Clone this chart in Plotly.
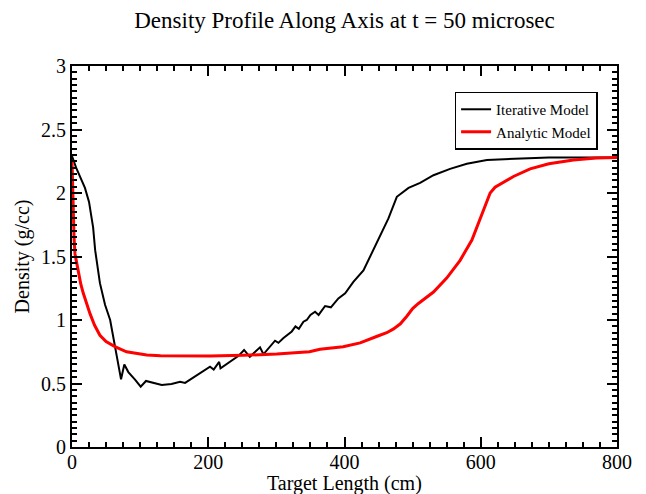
import plotly.graph_objects as go

# Iterative model (black)
iter_x = [0, 6, 19, 25, 31, 34, 41, 48.5, 56, 60.7, 65.6, 72, 76.8, 82.7, 92.5, 100.8, 108.6,
          119.4, 131.7, 146, 158.6, 166, 175.7, 188, 202.6, 208, 216, 218, 232, 244, 252.6,
          261, 276, 281, 298, 303, 310, 322.6, 328, 333, 339.7, 344.6, 350, 356.8, 362, 371.5,
          380, 391, 401, 413, 427.8, 440, 452, 464.5, 476.8, 494, 511, 530.6, 555, 579.6,
          609, 653, 700, 750, 800]
iter_y = [2.29, 2.20, 2.04, 1.93, 1.73, 1.55, 1.29, 1.12, 1.0, 0.87, 0.71, 0.533, 0.65, 0.59,
          0.53, 0.475, 0.52, 0.506, 0.488, 0.496, 0.514, 0.505, 0.54, 0.58, 0.632, 0.61, 0.67,
          0.62, 0.67, 0.716, 0.764, 0.71, 0.785, 0.73, 0.837, 0.82, 0.856, 0.91, 0.95, 0.93,
          0.987, 1.0, 1.04, 1.065, 1.04, 1.11, 1.10, 1.17, 1.21, 1.30, 1.39, 1.525, 1.67, 1.80,
          1.97, 2.04, 2.08, 2.14, 2.19, 2.23, 2.26, 2.27, 2.28, 2.28, 2.28]

# Analytic model (red)
anal_x = [0, 1, 2, 3, 4.4, 6.9, 9.3, 13, 16.6, 21, 26.4, 33, 41, 50, 63, 80, 95, 109.7, 130,
          153.7, 202.6, 251.5, 300.6, 348.5, 364, 398, 423, 447, 462, 472, 482, 491.5, 500,
          508.5, 530.6, 550, 569.7, 587, 601.6, 613.8, 621, 648, 672.5, 700, 736, 770, 800]
anal_y = [2.26, 2.0, 1.8, 1.65, 1.52, 1.44, 1.37, 1.28, 1.21, 1.13, 1.05, 0.96, 0.88, 0.83,
          0.79, 0.75, 0.735, 0.724, 0.718, 0.716, 0.716, 0.722, 0.732, 0.75, 0.77, 0.79, 0.82,
          0.87, 0.90, 0.93, 0.97, 1.03, 1.09, 1.13, 1.22, 1.33, 1.47, 1.63, 1.84, 2.0, 2.045,
          2.13, 2.19, 2.23, 2.26, 2.275, 2.28]

FONT = "Liberation Serif"

fig = go.Figure()
fig.add_trace(go.Scatter(x=iter_x, y=iter_y, mode="lines", name="Iterative Model",
                         line=dict(color="black", width=2)))
fig.add_trace(go.Scatter(x=anal_x, y=anal_y, mode="lines", name="Analytic Model",
                         line=dict(color="red", width=3)))

axis_common = dict(
    showgrid=False, zeroline=False, showline=True, linecolor="black", linewidth=2,
    mirror="allticks", ticks="inside", ticklen=10, tickwidth=2, tickcolor="black",
    tickfont=dict(family=FONT, size=20, color="black"), automargin=False,
)

fig.update_xaxes(range=[0, 800], dtick=200, tick0=0, ticklabelstandoff=-4,
                 minor=dict(dtick=25, ticks="inside", ticklen=5, tickwidth=1.5, tickcolor="black"),
                 **axis_common)
fig.update_yaxes(range=[0, 3], dtick=0.5, tick0=0,
                 title=dict(text="Density (g/cc)", font=dict(family=FONT, size=20), standoff=6),
                 minor=dict(dtick=0.05, ticks="inside", ticklen=5, tickwidth=1.5, tickcolor="black"),
                 **axis_common)

# x axis title as an annotation so it sits just under the tick labels
fig.add_annotation(text="Target Length (cm)", xref="paper", yref="paper",
                   x=0.5, y=-0.096, xanchor="center", yanchor="middle", showarrow=False,
                   font=dict(family=FONT, size=20, color="black"))

# page body adds an 8px offset, so the figure is 8px smaller
fig.update_layout(
    width=638, height=486,
    margin=dict(l=64, r=29, t=58, b=47),
    plot_bgcolor="white", paper_bgcolor="white",
    font=dict(family=FONT, color="black"),
    title=dict(text="Density Profile Along Axis at t = 50 microsec",
               font=dict(family=FONT, size=23, color="black"),
               x=0.5, xref="paper", xanchor="center",
               y=0.975, yref="container", yanchor="middle"),
    legend=dict(x=0.702, y=0.933, xanchor="left", yanchor="top",
                bordercolor="black", borderwidth=1.5, bgcolor="white",
                font=dict(family=FONT, size=15), tracegroupgap=0, itemwidth=30),
    showlegend=True,
)

fig.write_html("out.html")
